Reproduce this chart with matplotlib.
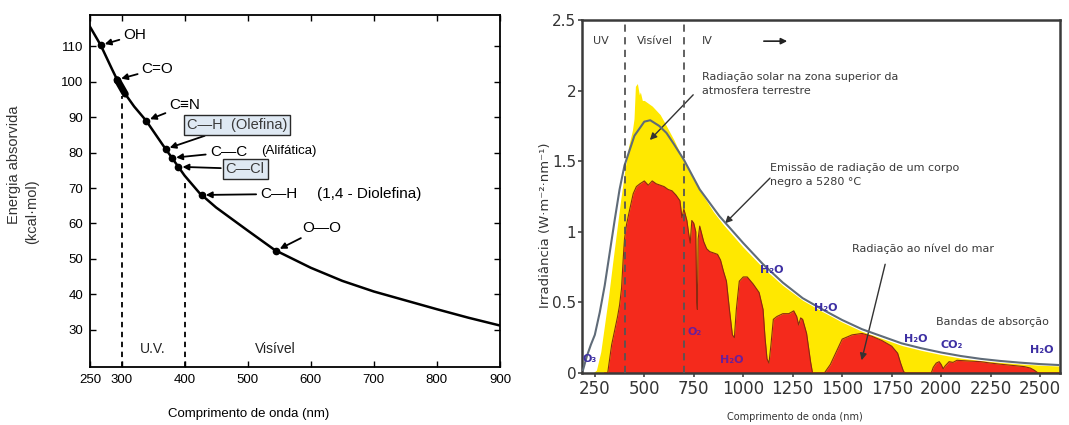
import matplotlib
matplotlib.use('Agg')
import matplotlib.pyplot as plt
import numpy as np

# ---------------- data: left panel ----------------
curve_wl = [250, 267, 285, 300, 320, 339, 366, 386, 400, 424, 450, 500, 543, 600, 650, 700, 750, 800, 850, 900]
curve_E = [115.5, 110.3, 103.5, 98.0, 93.0, 89.0, 82.0, 77.0, 73.5, 68.5, 64.5, 58.0, 52.5, 47.5, 43.8, 40.8, 38.3, 35.8, 33.4, 31.2]
bond_names = ['OH', 'C=O', 'C≡N', 'C—H  (Olefina)', 'C—C', 'C—Cl', 'C—H', 'O—O']
bond_wl = [267, 293, 339, 370, 380, 390, 427, 545]
co_band_wl = [293, 306]
left_xticks = [250, 300, 400, 500, 600, 700, 800, 900]
left_yticks = [30, 40, 50, 60, 70, 80, 90, 100, 110]
region_lines_left = [300, 400]

# ---------------- data: right panel ----------------
bb_wl = [190, 210, 230, 250, 275, 300, 325, 350, 375, 400, 450, 500, 530, 575, 612, 650, 700, 780, 880,
         1000, 1100, 1200, 1300, 1400, 1500, 1600, 1700, 1800, 1900, 2000, 2100, 2200, 2300, 2400, 2500, 2600]
bb_v = [0.02, 0.12, 0.20, 0.27, 0.43, 0.62, 0.85, 1.08, 1.30, 1.47, 1.68, 1.78, 1.79, 1.75, 1.70, 1.62, 1.51, 1.30, 1.11,
        0.92, 0.77, 0.64, 0.53, 0.45, 0.375, 0.31, 0.26, 0.21, 0.175, 0.145, 0.12, 0.10, 0.085, 0.073, 0.063, 0.056]

top_wl = [240, 258, 280, 300, 320, 340, 360, 380, 400, 420, 440, 448, 455, 465, 475, 480, 490, 500, 520, 540, 560,
          580, 600, 650, 700, 750, 800, 850, 900, 1000, 1100, 1200, 1300, 1400, 1500, 1600, 1700, 1800, 1900,
          2000, 2100, 2200, 2300, 2400, 2500, 2600]
top_v = [0.0, 0.02, 0.15, 0.35, 0.55, 0.78, 1.00, 1.22, 1.42, 1.60, 1.72, 1.80, 2.03, 2.05, 1.97, 1.99, 1.93, 1.93, 1.91, 1.89, 1.86,
         1.83, 1.78, 1.65, 1.50, 1.37, 1.25, 1.14, 1.05, 0.89, 0.745, 0.62, 0.515, 0.435, 0.36, 0.295, 0.245, 0.195, 0.16,
         0.13, 0.105, 0.088, 0.075, 0.064, 0.055, 0.049]

sea_wl = [300, 315, 320, 335, 350, 365, 375, 385, 393, 400, 410, 425, 444, 460, 478, 500, 520, 540, 560, 580, 600,
          620, 640, 660, 680, 690, 700, 715, 725, 732, 740, 750, 760, 765, 768, 772, 780, 800, 815, 830, 850, 870,
          885, 900, 915, 930, 945, 955, 965, 980, 1000, 1020, 1050, 1080, 1100, 1110, 1120, 1130, 1140, 1152, 1170,
          1200, 1230, 1255, 1270, 1280, 1290, 1300, 1320, 1340, 1350, 1410, 1420, 1440, 1460, 1480, 1500, 1550,
          1600, 1650, 1700, 1750, 1780, 1795, 1810, 1820, 1950, 1960, 1975, 1990, 2000, 2010, 2020, 2040, 2060,
          2080, 2100, 2200, 2250, 2300, 2350, 2420, 2450, 2470, 2490, 2600]
sea_v = [0.0, 0.0, 0.05, 0.20, 0.30, 0.40, 0.48, 0.60, 0.80, 0.95, 1.05, 1.15, 1.27, 1.32, 1.34, 1.36, 1.33, 1.36, 1.34, 1.33, 1.32,
         1.30, 1.29, 1.26, 1.22, 1.10, 1.16, 1.08, 0.98, 0.92, 1.08, 1.06, 1.00, 0.50, 0.45, 0.95, 1.04, 0.93, 0.88, 0.86, 0.85, 0.84,
         0.80, 0.72, 0.65, 0.45, 0.27, 0.25, 0.45, 0.65, 0.68, 0.68, 0.63, 0.57, 0.45, 0.25, 0.10, 0.07, 0.20, 0.38, 0.40,
         0.42, 0.42, 0.44, 0.40, 0.34, 0.39, 0.38, 0.28, 0.08, 0.0, 0.0, 0.02, 0.06, 0.12, 0.18, 0.24, 0.27,
         0.28, 0.26, 0.23, 0.19, 0.14, 0.07, 0.01, 0.0, 0.0, 0.04, 0.07, 0.08, 0.06, 0.03, 0.05, 0.08, 0.075,
         0.09, 0.088, 0.08, 0.07, 0.062, 0.055, 0.045, 0.035, 0.02, 0.0, 0.0]

right_xticks = [250, 500, 750, 1000, 1250, 1500, 1750, 2000, 2250, 2500]
right_yticks = [0, 0.5, 1, 1.5, 2, 2.5]
right_yticklabels = ['0', '0.5', '1', '1.5', '2', '2.5']
region_lines_right = [400, 700]

# ---------------- figure ----------------
plt.rcParams['font.family'] = ['DejaVu Sans']
fig = plt.figure(figsize=(10.69, 4.25), dpi=100)
axL = fig.add_axes([0.0842, 0.1365, 0.3835, 0.828])
axR = fig.add_axes([0.5444, 0.1224, 0.4471, 0.8306])

LF = 'Liberation Sans'

# ---- left panel ----
axL.plot(curve_wl, curve_E, color='black', lw=1.8, zorder=3)
co_E = np.interp(co_band_wl, curve_wl, curve_E)
axL.plot(co_band_wl, co_E, color='black', lw=5, solid_capstyle='round', zorder=3)
bond_E = np.interp(bond_wl, curve_wl, curve_E)
axL.plot(bond_wl, bond_E, 'o', color='black', ms=4.5, zorder=4)

for x in region_lines_left:
    axL.plot([x, x], [19.5, np.interp(x, curve_wl, curve_E) - 2], color='black', lw=1.3,
             ls=(0, (3, 2.5)), zorder=2)

arrow_kw = dict(arrowstyle='-|>', color='black', lw=1.3, mutation_scale=9, shrinkA=1, shrinkB=3)
text_pos = [(303, 113.1), (332, 103.7), (376, 93.3), (403, 87.8), (440, 80.1), (465, 75.4), (520, 68.3), (586, 58.8)]
for i, name in enumerate(bond_names):
    kw = dict(fontsize=11, family=LF, ha='left', va='center', color='black')
    if name.startswith('C—H  (') or name == 'C—Cl':
        kw['color'] = '#3a3a3a'
        kw['fontsize'] = 10.5
        kw['bbox'] = dict(boxstyle='square,pad=0.2', fc='#dfe9f3', ec='#2a2a2a', lw=1.0)
    axL.annotate(name, xy=(bond_wl[i], bond_E[i]), xytext=text_pos[i], arrowprops=arrow_kw, zorder=5, **kw)
axL.text(522, 80.5, '(Alifática)', fontsize=9.5, family=LF, ha='left', va='center')
axL.text(610, 68.3, '(1,4 - Diolefina)', fontsize=11, family=LF, ha='left', va='center')
axL.text(349, 24.5, 'U.V.', fontsize=10, family=LF, ha='center', va='center', color='#222')
axL.text(544, 24.5, 'Visível', fontsize=10, family=LF, ha='center', va='center', color='#222')

axL.set_xlim(250, 900)
axL.set_ylim(19.5, 118.8)
axL.set_xticks(left_xticks)
axL.set_yticks(left_yticks)
axL.tick_params(direction='in', length=4, width=1, top=True, right=True, labelsize=9.5, pad=5)
for lab in axL.get_xticklabels() + axL.get_yticklabels():
    lab.set_family(LF)
for s in axL.spines.values():
    s.set_linewidth(1.3)
fig.text(249 / 1069, 1 - 414 / 425, 'Comprimento de onda (nm)', ha='center', va='center', fontsize=9.5, family=LF)
fig.text(14 / 1069, 1 - 165 / 425, 'Energia absorvida', rotation=90, ha='center', va='center', fontsize=10.5, family=LF, color='#333')
fig.text(32 / 1069, 1 - 212 / 425, '(kcal·mol)', rotation=90, ha='center', va='center', fontsize=10.5, family=LF, color='#333')

# ---- right panel ----
axR.fill_between(top_wl, top_v, color='#ffe800', lw=0, zorder=1)
axR.fill_between(sea_wl, sea_v, color='#f42a1c', lw=0, zorder=2)
axR.plot(sea_wl, sea_v, color='#8a2a10', lw=0.8, zorder=3)
axR.plot(bb_wl, bb_v, color='#5f6b78', lw=1.5, zorder=4)
for x in region_lines_right:
    axR.axvline(x, color='#555555', lw=1.3, ls=(0, (4, 3)), zorder=5)

dg = '#3a3a3a'
axR.text(280, 2.35, 'UV', fontsize=8, ha='center', va='center', color=dg)
axR.text(553, 2.35, 'Visível', fontsize=8, ha='center', va='center', color=dg)
axR.text(819, 2.35, 'IV', fontsize=8, ha='center', va='center', color=dg)
axR.annotate('', xy=(1236, 2.35), xytext=(1090, 2.35),
             arrowprops=dict(arrowstyle='-|>', color='#222', lw=1.2, mutation_scale=9))

ak = dict(arrowstyle='-|>', color='#333', lw=1.0, mutation_scale=10, shrinkA=0, shrinkB=0)
axR.text(790, 2.05, 'Radiação solar na zona superior da\natmosfera terrestre', fontsize=8, ha='left', va='center',
         color=dg, linespacing=1.5)
axR.annotate('', xy=(528, 1.65), xytext=(747, 1.97), arrowprops=ak)
axR.text(1135, 1.40, 'Emissão de radiação de um corpo\nnegro a 5280 °C', fontsize=8, ha='left', va='center',
         color=dg, linespacing=1.5)
axR.annotate('', xy=(908, 1.06), xytext=(1135, 1.38), arrowprops=ak)
axR.text(1548, 0.88, 'Radiação ao nível do mar', fontsize=8, ha='left', va='center', color=dg)
axR.annotate('', xy=(1598, 0.09), xytext=(1717, 0.77), arrowprops=ak)
axR.text(2545, 0.36, 'Bandas de absorção', fontsize=8, ha='right', va='center', color=dg)

blue = '#3d2fa3'
purp = '#6b1f9a'
mol_labels = [('H₂O', 1143, 0.73, blue), ('H₂O', 1418, 0.46, blue), ('H₂O', 1874, 0.24, blue),
              ('CO₂', 2053, 0.20, blue), ('H₂O', 2509, 0.165, blue), ('O₃', 225, 0.10, blue),
              ('O₂', 756, 0.29, purp), ('H₂O', 941, 0.09, purp)]
for t, x, y, c in mol_labels:
    axR.text(x, y, t, fontsize=8, fontweight='bold', ha='center', va='center', color=c, zorder=6)

axR.set_xlim(185, 2600)
axR.set_ylim(0, 2.5)
axR.set_xticks(right_xticks)
axR.set_yticks(right_yticks)
axR.set_yticklabels(right_yticklabels)
axR.tick_params(axis='x', direction='out', length=3, width=1.2, color='#444', labelsize=12, labelcolor='#333', pad=2)
axR.tick_params(axis='y', direction='out', length=3, width=1.2, color='#444', labelsize=11, labelcolor='#333', pad=1)
for s in axR.spines.values():
    s.set_linewidth(1.8)
    s.set_color('#3a3a3a')
fig.text(795 / 1069, 0.018, 'Comprimento de onda (nm)', ha='center', va='center', fontsize=7, color='#333')
fig.text(545 / 1069, 1 - 225 / 425, 'Irradiância (W·m⁻²·nm⁻¹)', rotation=90, ha='center', va='center',
         fontsize=9.5, color='#333')

fig.savefig('out.png', dpi=100)
